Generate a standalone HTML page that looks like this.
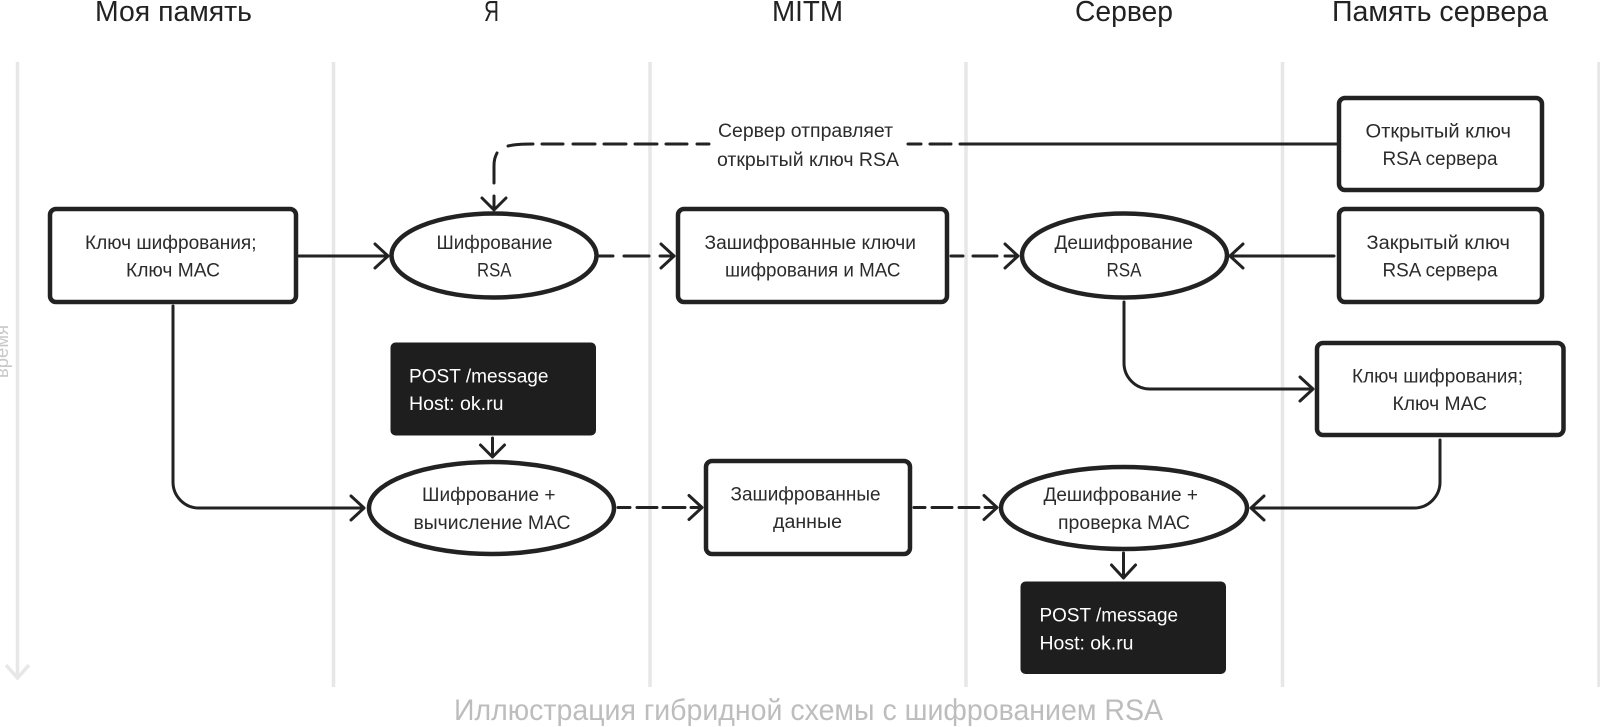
<!DOCTYPE html>
<html><head><meta charset="utf-8"><title>Иллюстрация гибридной схемы с шифрованием RSA</title>
<style>
html,body{margin:0;padding:0;background:#fff;width:1600px;height:727px;overflow:hidden}
svg{display:block;filter:blur(.3px)}
text{font-family:"Liberation Sans","Noto Sans CJK SC",sans-serif;fill:#2b2b2b;font-size:19px}
.h{font-size:28.5px;fill:#222}
.w{fill:#fff}
.c{font-size:30px;fill:#bdbdbd}
.t{font-size:18px;fill:#c8c8c8}
.g{stroke:#e7e7e7;stroke-width:3.5;fill:none}
.b{fill:#fff;stroke:#222;stroke-width:4.5}
.l{fill:none;stroke:#222;stroke-width:3;stroke-linecap:round;stroke-linejoin:round}
.d{fill:#1e1e1e}
</style></head><body>
<svg width="1600" height="727" viewBox="0 0 1600 727" xmlns="http://www.w3.org/2000/svg">
<rect width="1600" height="727" fill="#fff"/>
<g class="g">
<path d="M17.5 62V678M6 665L17.5 678L29 665"/>
<path d="M333.5 62V687M650 62V687M966 62V687M1282.5 62V687M1599 62V687"/>
</g>
<text class="t" transform="translate(8,378) rotate(-90)" textLength="53" lengthAdjust="spacingAndGlyphs">время</text>

<text class="h" x="95" y="21" textLength="157" lengthAdjust="spacingAndGlyphs">Моя память</text>
<text class="h" x="484" y="21" textLength="15" lengthAdjust="spacingAndGlyphs">Я</text>
<text class="h" x="772" y="21" textLength="71" lengthAdjust="spacingAndGlyphs">MITM</text>
<text class="h" x="1075" y="21" textLength="98" lengthAdjust="spacingAndGlyphs">Сервер</text>
<text class="h" x="1332" y="21" textLength="216" lengthAdjust="spacingAndGlyphs">Память сервера</text>

<!-- connectors -->
<g class="l">
<path d="M299 256H387M375 244L388 256L375 268"/>
<path d="M494 183V166C494 160 495 157 497 153"/>
<path d="M508 146C512 145 518 144 533 144"/>
<path d="M542 144H563M573 144H595M604 144H626M635 144H657M666 144H687M697 144H709M908 144H921M930 144H951M960 144H1337"/>
<path d="M482 198L494 210L506 198M494 196V209"/>
<path d="M599 256H613M624 256H649M660 256H673M661 244L674 256L661 268"/>
<path d="M951 256H963M973 256H997M1005 256H1017M1005 244L1018 256L1005 268"/>
<path d="M1334 256H1230M1243 244L1230 256L1243 268"/>
<path d="M1124 302V363A26 26 0 0 0 1150 389H1312M1300 377L1313 389L1300 401"/>
<path d="M173 306V482A26 26 0 0 0 199 508H364M351 496L364 508L351 520"/>
<path d="M492.500 438V456M480.500 445L492.500 457L504.500 445"/>
<path d="M618 507.500H630M637 507.500H657M663 507.500H685M691 507.500H701M689 495.500L702 507.500L689 519.500"/>
<path d="M914 507.500H925M932 507.500H952M959 507.500H979M985 507.500H996M984 495.500L997 507.500L984 519.500"/>
<path d="M1440 440V482A26 26 0 0 1 1414 508H1252M1264 496L1251 508L1264 520"/>
<path d="M1123.500 553V577M1111.500 565L1123.500 578L1135.500 565"/>
</g>

<!-- white boxes -->
<rect class="b" x="50" y="209" width="246" height="93" rx="6"/>
<rect class="b" x="678" y="209" width="269" height="93" rx="6"/>
<rect class="b" x="1339" y="98" width="203" height="92" rx="6"/>
<rect class="b" x="1339" y="209" width="203" height="93" rx="6"/>
<rect class="b" x="1317" y="343" width="246.500" height="92" rx="6"/>
<rect class="b" x="706" y="461" width="204" height="93" rx="6"/>
<!-- ellipses -->
<ellipse class="b" cx="494" cy="255.500" rx="102.500" ry="42"/>
<ellipse class="b" cx="1124.500" cy="255.500" rx="102.500" ry="42"/>
<ellipse class="b" cx="491.500" cy="508" rx="122.500" ry="46"/>
<ellipse class="b" cx="1124" cy="508" rx="123" ry="41"/>
<!-- dark boxes -->
<rect class="d" x="390.500" y="342.500" width="205.500" height="93" rx="5"/>
<rect class="d" x="1020.500" y="581.500" width="205.500" height="92.500" rx="5"/>

<!-- labels -->
<text x="718" y="137" textLength="175" lengthAdjust="spacingAndGlyphs">Сервер отправляет</text>
<text x="717" y="166" textLength="182" lengthAdjust="spacingAndGlyphs">открытый ключ RSA</text>

<text x="85" y="249" textLength="171.500" lengthAdjust="spacingAndGlyphs">Ключ шифрования;</text>
<text x="126" y="276.500" textLength="94" lengthAdjust="spacingAndGlyphs">Ключ МАС</text>
<text x="436.500" y="249" textLength="116" lengthAdjust="spacingAndGlyphs">Шифрование</text>
<text x="477" y="276.500" textLength="34.500" lengthAdjust="spacingAndGlyphs">RSA</text>
<text x="704.500" y="249" textLength="211.500" lengthAdjust="spacingAndGlyphs">Зашифрованные ключи</text>
<text x="725" y="276.500" textLength="175.500" lengthAdjust="spacingAndGlyphs">шифрования и МАС</text>
<text x="1054.500" y="249" textLength="138.500" lengthAdjust="spacingAndGlyphs">Дешифрование</text>
<text x="1106.500" y="276.500" textLength="35" lengthAdjust="spacingAndGlyphs">RSA</text>
<text x="1365.500" y="137.500" textLength="145.500" lengthAdjust="spacingAndGlyphs">Открытый ключ</text>
<text x="1382.500" y="165" textLength="115" lengthAdjust="spacingAndGlyphs">RSA сервера</text>
<text x="1366.500" y="249" textLength="143.500" lengthAdjust="spacingAndGlyphs">Закрытый ключ</text>
<text x="1382.500" y="276.500" textLength="115" lengthAdjust="spacingAndGlyphs">RSA сервера</text>
<text x="1352" y="382.500" textLength="171" lengthAdjust="spacingAndGlyphs">Ключ шифрования;</text>
<text x="1392.500" y="410" textLength="94.500" lengthAdjust="spacingAndGlyphs">Ключ МАС</text>
<text class="w" x="409" y="382.500" textLength="139.500" lengthAdjust="spacingAndGlyphs">POST /message</text>
<text class="w" x="409" y="410" textLength="94.500" lengthAdjust="spacingAndGlyphs">Host: ok.ru</text>
<text x="422" y="501" textLength="133.500" lengthAdjust="spacingAndGlyphs">Шифрование +</text>
<text x="413.500" y="529" textLength="157" lengthAdjust="spacingAndGlyphs">вычисление МАС</text>
<text x="730.500" y="500.500" textLength="150" lengthAdjust="spacingAndGlyphs">Зашифрованные</text>
<text x="773" y="528" textLength="69" lengthAdjust="spacingAndGlyphs">данные</text>
<text x="1043.500" y="501" textLength="154.500" lengthAdjust="spacingAndGlyphs">Дешифрование +</text>
<text x="1058" y="529" textLength="132" lengthAdjust="spacingAndGlyphs">проверка МАС</text>
<text class="w" x="1039.500" y="621.500" textLength="138.500" lengthAdjust="spacingAndGlyphs">POST /message</text>
<text class="w" x="1039.500" y="649.500" textLength="94" lengthAdjust="spacingAndGlyphs">Host: ok.ru</text>

<text class="c" x="454" y="720" textLength="709" lengthAdjust="spacingAndGlyphs">Иллюстрация гибридной схемы с шифрованием RSA</text>
</svg>
</body></html>
